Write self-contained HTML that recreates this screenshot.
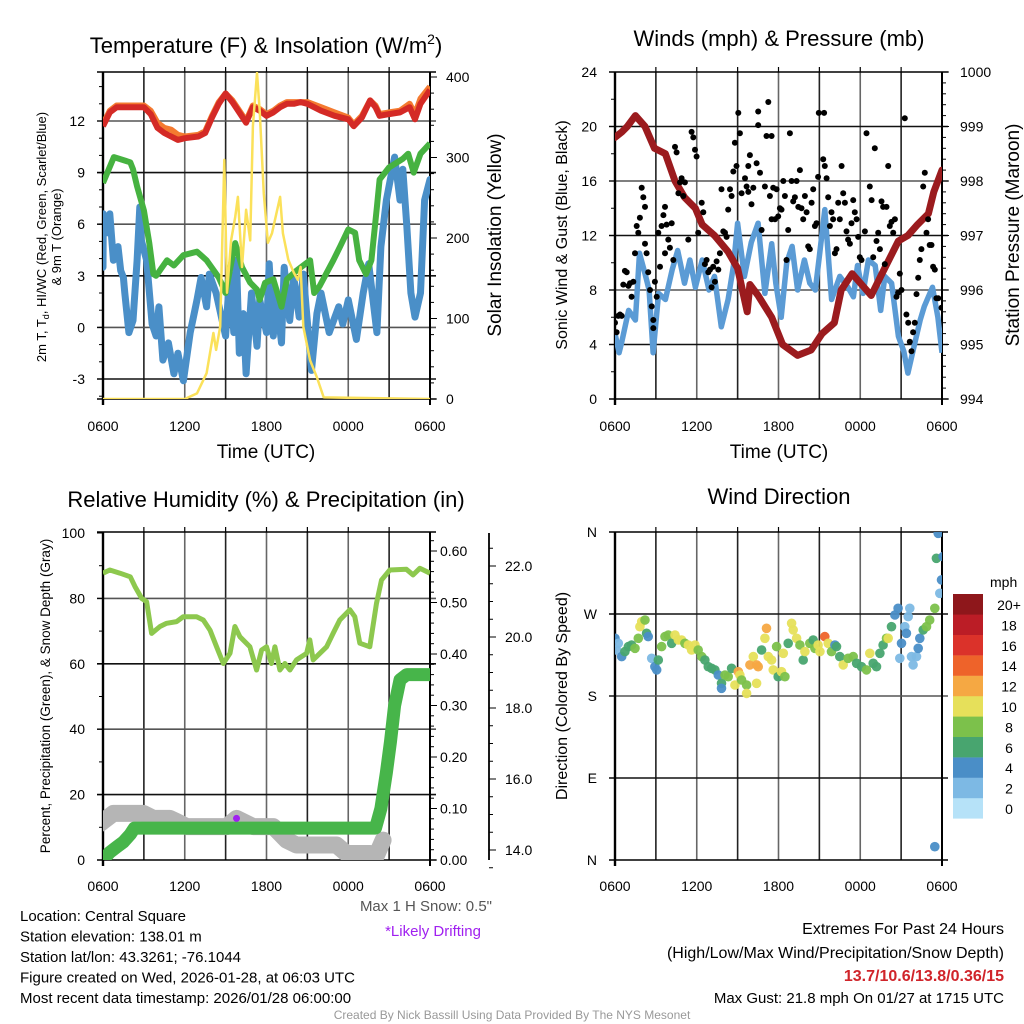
<!DOCTYPE html>
<html><head><meta charset="utf-8">
<style>
html,body{margin:0;padding:0;background:#fff;}
svg{display:block;font-family:"Liberation Sans",Arial,sans-serif;}
</style></head>
<body>
<svg id="chart" width="1024" height="1024" viewBox="0 0 1024 1024" xmlns="http://www.w3.org/2000/svg">
<defs>
<clipPath id="c1"><rect x="103" y="72" width="327" height="327"/></clipPath>
<clipPath id="c2"><rect x="615" y="72" width="327" height="327"/></clipPath>
<clipPath id="c3"><rect x="103" y="532" width="327" height="328"/></clipPath>
<clipPath id="c4"><rect x="615" y="532" width="327" height="328"/></clipPath>
</defs>
</svg>
<script>
// ---------- Panel 1 data ----------
const timeTicks = ["0600","1200","1800","0000","0600"];
const tempTicks = [-3,0,3,6,9,12];
const solarTicks = [0,100,200,300,400];
const redH = [0,0.5,1,2,3,3.5,4,4.5,5,5.5,6,7,7.5,8,8.5,9,9.5,10,10.5,11,11.5,12,12.5,13,13.5,14,14.5,15,16,17,18,18.4,19,19.6,20,20.3,21,21.8,22.5,22.9,23.3,24];
const redV = [11.7,12.5,12.8,12.8,12.8,12.4,11.6,11.3,11.1,10.9,11.0,11.1,11.3,12.2,13.0,13.6,13.1,12.5,11.9,12.8,12.6,12.3,12.5,12.8,13.0,13.0,13.1,13.0,12.6,12.3,12.1,11.7,12.2,13.2,12.8,12.3,12.4,12.5,12.8,12.1,13.0,13.8];
const orangeV = [11.8,12.6,12.9,12.9,12.9,12.6,11.9,11.6,11.5,11.2,11.1,11.2,11.4,12.3,13.1,13.6,13.2,12.6,12.0,12.9,12.7,12.4,12.6,12.9,13.1,13.1,13.1,13.1,12.8,12.5,12.2,11.8,12.3,13.2,12.9,12.4,12.5,12.6,13.0,12.4,13.3,14.0];
const greenH = [0,0.8,2,2.2,2.5,3,3.4,3.7,3.9,4.7,5.2,5.9,6.9,7.6,8.5,9,9.4,9.7,10.2,10.8,11.3,11.5,11.9,12.5,13.1,13.5,14.2,15.2,15.5,15.9,16.9,17.4,18,18.5,18.8,19.3,19.7,20.1,20.3,21,22,22.4,22.8,23.3,24];
const greenV = [8.4,9.9,9.6,9.2,8.2,6.8,4.9,3.1,3.0,3.9,3.6,4.2,4.4,3.9,2.9,2.0,3.7,4.9,3.5,2.6,2.2,1.6,2.6,2.8,1.2,2.8,3.3,3.9,2.0,2.4,3.9,4.7,5.7,5.5,3.9,3.1,3.9,7.0,8.6,9.3,9.8,10.1,9.0,10.1,10.7];
const blueH = [0,0.02,0.3,0.5,0.76,1.1,1.3,1.5,1.6,1.9,2.2,2.5,2.7,2.8,3.2,3.6,3.9,4.1,4.4,4.8,5.2,5.5,5.9,6.4,6.9,7.2,7.6,7.8,8.3,9.0,9.3,9.6,9.8,10.0,10.3,10.5,10.9,11.3,11.5,12.0,12.2,12.5,12.7,13.1,13.3,13.7,14.0,14.4,14.7,15.3,15.7,16.0,16.6,17.3,17.6,18.0,18.6,19.1,19.5,20.1,20.4,20.8,21.4,21.8,22.0,22.3,22.6,22.9,23.3,23.6,24];
const blueV = [3.5,6.6,5.5,6.6,3.9,4.7,3.3,2.9,2.0,-0.3,0.4,3.9,7.0,5.1,3.9,0.2,-0.5,1.2,-1.9,-0.9,-2.7,-1.5,-3.1,-0.3,1.6,2.9,1.2,3.1,2.0,-0.5,3.1,-0.3,3.9,-1.5,0.8,-2.7,2.0,-1.1,1.6,-0.3,3.7,-0.5,2.0,-0.9,3.5,0.4,2.9,0.6,3.1,-2.5,0.8,2.0,-0.3,1.2,0.2,1.6,-0.7,2.0,3.7,-0.3,4.7,7.4,9.9,7.4,9.2,5.9,2.0,0.6,2.0,7.4,8.6];
const solarH = [0,6.0,6.9,7.6,8.1,8.3,8.6,8.9,9.1,9.4,9.7,9.9,10.2,10.5,10.8,11.0,11.3,11.5,11.8,12.1,12.4,13.0,13.2,13.6,14.0,14.3,14.5,14.7,15.2,15.7,16.2,24];
const solarV = [0,0,7,32,82,61,90,297,132,197,226,251,164,235,197,339,405,358,255,194,206,251,206,173,157,148,164,90,48,27,2,0];

// ---------- Panel 2 data ----------
const windTicks = [0,4,8,12,16,20,24];
const presTicks = [994,995,996,997,998,999,1000];
const presH = [0,0.5,0.9,1.5,2.2,2.9,3.7,4.4,5.1,5.9,6.4,7.3,8.3,9.0,9.7,9.9,10.5,11.5,12.3,13.4,14.4,15.2,16.1,16.6,17.4,18.1,18.8,19.6,20.8,21.5,22.2,23.0,23.4,24];
const presV = [998.8,998.9,999.0,999.2,999.0,998.6,998.5,998.0,997.7,997.5,997.2,997.0,996.7,996.4,995.6,996.1,995.9,995.5,995.0,994.8,994.9,995.2,995.4,996.0,996.3,996.1,995.9,996.3,996.9,997.0,997.2,997.4,997.8,998.2];
const windH = [0,0.3,0.5,1.0,1.5,1.8,2.2,2.5,2.8,3.2,3.7,4.2,4.6,5.1,5.5,5.9,6.4,6.9,7.3,7.8,8.3,8.7,9.0,9.5,10.0,10.5,11.0,11.5,11.8,12.2,12.6,13.0,13.4,13.9,14.3,14.7,15.0,15.4,15.9,16.5,17.1,17.5,17.8,18.2,18.6,19.1,19.5,19.8,20.3,20.8,21.2,21.5,22.0,22.4,22.7,23.0,23.3,23.7,24];
const windV = [4.8,3.4,4.2,6.5,5.8,10.7,9.2,8.0,3.4,7.75,7.3,9.5,10.9,8.5,10.2,8.2,10.2,8.0,9.0,5.3,7.3,9.8,12.9,9.0,11.5,12.9,7.75,11.4,8.5,6.0,10.0,11.2,8.0,10.2,8.5,8.0,10.5,13.9,7.3,9.0,8.2,7.5,9.8,7.75,10.2,9.8,6.5,9.0,8.5,4.6,3.5,1.9,4.1,5.8,6.8,7.5,8.2,6.0,3.4];
const gustH = [0,0.12,0.24,0.37,0.49,0.61,0.73,0.86,0.98,1.1,1.22,1.34,1.47,1.59,1.71,1.83,1.96,2.08,2.2,2.2,2.32,2.44,2.57,2.69,2.81,2.81,2.93,3.06,3.18,3.3,3.42,3.55,3.67,3.67,3.79,3.91,4.03,4.16,4.28,4.4,4.52,4.65,4.77,4.89,5.01,5.13,5.38,5.62,5.75,5.87,5.99,6.11,6.36,6.48,6.6,6.72,6.85,6.97,7.09,7.21,7.33,7.46,7.58,7.7,7.82,7.95,8.07,8.19,8.31,8.44,8.56,8.68,8.8,8.92,9.05,9.17,9.29,9.54,9.66,9.78,9.78,9.9,10.02,10.15,10.39,10.51,10.51,10.64,10.76,11.0,11.12,11.25,11.37,11.49,11.49,11.61,11.74,11.86,11.98,12.1,12.22,12.35,12.47,12.59,12.71,12.84,12.96,13.08,13.2,13.33,13.45,13.57,13.69,13.81,13.94,14.06,14.18,14.3,14.43,14.55,14.67,14.79,14.91,14.96,15.28,15.35,15.4,15.53,15.65,15.77,15.89,16.01,16.14,16.26,16.38,16.5,16.63,16.75,16.87,16.99,17.11,17.24,17.36,17.48,17.6,17.73,17.85,17.97,18.09,18.34,18.46,18.7,18.83,18.95,19.07,19.19,19.32,19.44,19.56,19.68,19.8,19.93,20.05,20.17,20.29,20.42,20.54,20.66,20.78,20.9,21.03,21.27,21.39,21.52,21.64,21.76,21.88,22.0,22.13,22.25,22.37,22.49,22.62,22.74,22.86,22.98,23.1,23.23,23.35,23.47,23.59,23.72,23.96];
const gustV = [5.6,4.9,6.1,6.2,6.1,8.4,9.4,9.3,8.3,8.5,7.5,8.6,10.7,12.7,12.2,13.3,15.5,14.8,14.1,11.4,10.7,9.3,8.0,6.8,5.8,5.2,8.6,7.5,12.2,9.7,12.7,13.5,14.1,10.7,12.8,11.7,11.1,12.9,10.2,18.5,18.1,15.1,15.9,16.2,14.9,15.9,11.7,19.6,19.2,18.3,17.8,12.2,14.4,13.7,9.9,10.2,9.3,9.5,8.2,9.7,8.6,10.1,9.5,10.7,15.4,12.3,12.2,11.9,13.9,15.4,14.9,16.7,18.8,17.1,21.0,19.5,15.1,16.2,15.6,17.1,15.2,17.9,14.3,15.5,17.3,20.1,21.1,16.6,12.4,15.6,19.3,21.8,14.9,19.3,13.2,15.5,13.2,15.4,13.4,14.0,13.9,16.0,14.9,10.2,12.4,19.5,16.0,14.5,14.8,16.0,14.1,16.8,14.0,13.2,14.9,13.7,11.2,11.0,14.4,15.4,12.7,12.9,16.3,21.0,17.6,21.0,17.1,16.2,14.8,12.7,13.7,13.2,10.7,11.0,14.4,13.2,17.1,15.1,14.4,12.3,11.7,11.4,12.9,14.6,13.7,13.2,11.9,10.4,10.2,12.3,19.5,15.6,14.6,10.4,18.4,11.6,12.2,11.0,14.5,14.1,9.9,14.1,17.1,12.7,13.0,12.2,13.2,7.5,7.8,9.2,8.0,20.6,6.2,5.6,4.2,3.5,4.9,5.6,7.7,8.9,10.2,11.0,15.6,16.6,12.2,13.2,11.3,11.3,9.7,9.5,7.4,7.4,6.7];

// ---------- Panel 3 data ----------
const rhTicks = [0,20,40,60,80,100];
const precipTicks = [0.00,0.10,0.20,0.30,0.40,0.50,0.60];
const snowTicks = [14.0,16.0,18.0,20.0,22.0];
const rhH = [0,0.5,1.25,2.0,2.35,2.84,3.2,3.57,4.18,4.67,5.4,5.89,6.87,7.36,7.85,8.34,8.83,9.32,9.68,10.05,10.78,11.27,11.64,12.0,12.37,12.62,12.98,13.35,13.72,14.2,14.94,15.18,15.43,15.92,16.41,16.89,17.38,18.12,18.48,18.85,19.58,20.07,20.44,21.05,22.27,22.76,23.25,24];
const rhV = [87.7,88.7,87.7,86.6,83.6,80,79,69.3,71.4,72.4,72.9,74.4,74.4,73.4,70.3,65.2,60.1,63.2,71.4,68.3,65.2,58.1,64.2,65.2,60.1,65.2,58.1,60.1,58.1,61.2,63.2,67.3,61.2,63.2,65.2,69.3,73.4,76.5,74.4,66.3,65.2,78.5,85.6,88.7,88.9,87.2,89.2,87.7];
const precipH = [0,0.5,1.0,1.5,2.0,2.3,20.0,20.4,20.8,21.1,21.4,21.8,22.3,24];
const precipV = [0,0.015,0.025,0.035,0.05,0.062,0.062,0.10,0.17,0.23,0.30,0.35,0.36,0.36];
const snowH = [-0.2,0.76,2.96,3.69,4.91,5.4,6.14,9.07,9.8,11.03,12.5,13.47,14.2,17.14,17.87,19.58,19.95,20.56];
const snowV = [14.75,15.03,15.03,14.89,14.89,14.8,14.66,14.66,14.89,14.66,14.66,14.28,14.14,14.14,13.9,13.9,13.74,14.28];
const driftH = [9.8];
const driftV = [14.89];

// ---------- Panel 4 data ----------
const dirLabels = ["N","E","S","W","N"];
const dirTicks = [0,90,180,270,360];
const speedBins = ["0","2","4","6","8","10","12","14","16","18","20+"];
const binColors = ["#b6e2f8","#7db9e4","#4a8ec7","#48a56f","#7cc14b","#e6e05a","#f5a843","#ee632a","#db322a","#bb1d26","#8e171b"];
const dirH = [0,0.12,0.24,0.49,0.73,0.98,1.22,1.47,1.71,1.83,1.96,2.2,2.32,2.44,2.69,2.93,3.06,3.18,3.42,3.67,3.91,4.16,4.4,4.65,4.89,5.13,5.38,5.62,5.87,6.11,6.36,6.6,6.85,7.09,7.33,7.58,7.82,7.82,8.07,8.31,8.56,8.8,9.05,9.17,9.29,9.66,9.66,9.9,10.15,10.39,10.51,10.39,10.76,11.0,11.12,11.25,11.49,11.61,11.86,11.98,12.22,12.35,12.47,12.71,12.96,13.08,13.33,13.57,13.81,13.94,14.3,14.55,14.67,14.91,15.04,15.4,15.65,15.89,16.14,16.26,16.5,16.75,17.11,17.48,17.73,18.09,18.46,18.7,18.95,19.19,19.44,19.68,19.93,20.05,20.29,20.54,20.78,20.9,21.03,21.27,21.39,21.52,21.64,21.88,21.76,22.13,22.25,22.37,22.62,22.86,23.1,23.47,23.59,23.72,23.84,23.96,24.08,23.47];
const dirV = [243.3,230.5,237.8,223.2,228.7,234.2,236.0,232.3,243.3,256.1,261.6,263.4,248.8,245.2,221.4,212.2,208.6,219.5,234.2,245.2,247.0,237.8,247.0,241.5,241.5,237.8,236.0,230.5,236.0,230.5,223.2,219.5,212.2,210.4,208.6,203.1,193.9,188.4,203.1,201.2,210.4,192.1,206.7,203.1,197.6,192.1,182.9,214.1,223.2,214.1,212.2,193.9,230.5,243.3,254.3,223.2,219.5,208.6,234.2,201.2,206.7,226.9,201.2,237.8,259.8,252.5,243.3,236.0,219.5,228.7,237.8,241.5,232.3,236.0,228.7,245.2,237.8,228.7,236.0,234.2,223.2,214.1,221.4,223.2,215.9,212.2,208.6,226.9,215.9,212.2,226.9,236.0,243.3,243.3,256.1,268.9,276.3,221.4,237.8,256.1,248.8,267.1,276.3,214.1,223.2,223.2,232.3,243.3,252.5,256.1,263.4,276.3,331.1,358.6,292.7,307.4,333.0,14.6];
const dirSpd = [5,3,3,5,7,7,7,9,9,11,11,9,7,5,3,5,5,7,9,9,9,7,11,11,11,9,11,11,11,9,9,7,7,7,7,5,7,5,9,9,7,11,13,11,9,9,11,13,11,13,13,11,7,11,13,11,11,11,9,7,11,11,9,7,11,11,11,9,7,11,9,7,9,11,11,15,11,9,5,7,7,11,9,9,7,7,9,11,7,7,7,7,9,11,7,5,5,3,5,3,5,3,3,3,3,3,5,5,7,9,9,9,7,5,3,5,5,5,5];

// ---------- helpers ----------
const NS = "http://www.w3.org/2000/svg";
const svg = document.getElementById("chart");
function el(tag, attrs, parent, text) {
  const e = document.createElementNS(NS, tag);
  for (const k in attrs) e.setAttribute(k, attrs[k]);
  if (text !== undefined) e.textContent = text;
  (parent || svg).appendChild(e);
  return e;
}
function group(name, clip) {
  const g = el("g", clip ? {"clip-path": "url(#" + clip + ")"} : {});
  
  
  return g;
}
function pathFrom(xs, ys, fx, fy) {
  return xs.map((h, i) => (i ? "L" : "M") + fx(h).toFixed(1) + "," + fy(ys[i]).toFixed(1)).join("");
}
function txt(g, x, y, s, size, anchor, extra) {
  const a = {x: x, y: y, "font-size": size, "text-anchor": anchor || "middle", fill: "#000"};
  if (extra) for (const k in extra) a[k] = extra[k];
  return el("text", a, g, s);
}

function frame(name, x0, y0, w, h, xs, hGridYs, labelDy) {
  const g = group(name + "-frame");
  for (let i = 1; i < 8; i++) {
    const x = xs(i * 3);
    el("line", {x1: x, y1: y0, x2: x, y2: y0 + h, stroke: i % 2 ? "#222" : "#666", "stroke-width": 1.6}, g);
    el("line", {x1: x, y1: y0 - 5, x2: x, y2: y0, stroke: "#000", "stroke-width": 1.2}, g);
  }
  hGridYs.forEach((y, i) => el("line", {x1: x0 - 6, y1: y, x2: x0 + w + 6, y2: y, stroke: i % 2 ? "#555" : "#111", "stroke-width": 1.6}, g));
  el("line", {x1: x0 - 6, y1: y0, x2: x0 + w + 6, y2: y0, stroke: "#000", "stroke-width": 1.6}, g);
  el("line", {x1: x0 - 6, y1: y0 + h, x2: x0 + w + 6, y2: y0 + h, stroke: "#000", "stroke-width": 1.6}, g);
  el("line", {x1: x0, y1: y0, x2: x0, y2: y0 + h + 6, stroke: "#000", "stroke-width": 2.4}, g);
  el("line", {x1: x0 + w, y1: y0, x2: x0 + w, y2: y0 + h + 6, stroke: "#000", "stroke-width": 2}, g);
  const lg = group(name + "-x-tick-labels");
  timeTicks.forEach((t, i) => txt(lg, xs(i * 6), y0 + h + labelDy, t, 14));
  return g;
}

// ---------- Panel 1 ----------
const x1 = h => 103 + h * 13.625;
const yT = v => 121 + (12 - v) * 17.2;
const yS = w => 399 - w * 0.805;
frame("temp-panel", 103, 72, 327, 327, x1, tempTicks.map(yT).filter(y => y > 73 && y < 398), 32);
{
  const g = group("temp-axes");
  tempTicks.forEach(v => { txt(g, 85, yT(v) + 5, String(v), 14, "end"); el("line", {x1: 97, y1: yT(v), x2: 103, y2: yT(v), stroke: "#000"}, g); });
  for (let v = -4; v <= 14; v++) el("line", {x1: 99, y1: yT(v), x2: 103, y2: yT(v), stroke: "#000"}, g);
  solarTicks.forEach(w => { txt(g, 446, yS(w) + 5, String(w), 14, "start"); el("line", {x1: 430, y1: yS(w), x2: 437, y2: yS(w), stroke: "#000"}, g); });
  for (let w = 20; w <= 400; w += 20) el("line", {x1: 430, y1: yS(w), x2: 434, y2: yS(w), stroke: "#000"}, g);
  const t = txt(g, 266, 53, "", 22); t.innerHTML = 'Temperature (F) &amp; Insolation (W/m<tspan dy="-9" font-size="14">2</tspan><tspan dy="9">)</tspan>';
  
  
  const xt = txt(g, 266, 458, "Time (UTC)", 19);
  
  
  const yt = el("text", {transform: "translate(46,237) rotate(-90)", "font-size": 13, "text-anchor": "middle"}, g);
  yt.innerHTML = '<tspan x="0" dy="0">2m T, T<tspan font-size="9" dy="3">d</tspan><tspan dy="-3">, HI/WC (Red, Green, Scarlet/Blue)</tspan></tspan><tspan x="0" dy="15">&amp; 9m T (Orange)</tspan>';
  
  
  const rt = txt(g, 0, 0, "Solar Insolation (Yellow)", 19, "middle", {transform: "translate(501,235) rotate(-90)"});
  
  
}
{
  const g = group("temp-series", "c1");
  const s1 = el("path", {d: pathFrom(blueH, blueV, x1, yT), fill: "none", stroke: "#4a8fc8", "stroke-width": 7, "stroke-linejoin": "round", "stroke-linecap": "round"}, g);
  
  
  const s2 = el("path", {d: pathFrom(greenH, greenV, x1, yT), fill: "none", stroke: "#46b240", "stroke-width": 6, "stroke-linejoin": "round"}, g);
  
  
  const s3 = el("path", {d: pathFrom(redH, orangeV, x1, yT), fill: "none", stroke: "#f47a30", "stroke-width": 6, "stroke-linejoin": "round"}, g);
  
  
  const s4 = el("path", {d: pathFrom(redH, redV, x1, yT), fill: "none", stroke: "#d42a26", "stroke-width": 6, "stroke-linejoin": "round"}, g);
  
  
  const s5 = el("path", {d: pathFrom(solarH, solarV, x1, yS), fill: "none", stroke: "#fbe15a", "stroke-width": 2.5, "stroke-linejoin": "round"}, g);
  
  
}

// ---------- Panel 2 ----------
const x2 = h => 615 + h * 13.625;
const yW = m => 399 - m * 13.625;
const yP = p => 399 - (p - 994) * 54.5;
frame("wind-panel", 615, 72, 327, 327, x2, windTicks.map(yW).filter(y => y > 73 && y < 398), 32);
{
  const g = group("wind-axes");
  windTicks.forEach(v => { txt(g, 597, yW(v) + 5, String(v), 14, "end"); el("line", {x1: 609, y1: yW(v), x2: 615, y2: yW(v), stroke: "#000"}, g); });
  for (let v = 2; v < 24; v += 4) el("line", {x1: 611, y1: yW(v), x2: 615, y2: yW(v), stroke: "#000"}, g);
  presTicks.forEach(p => { txt(g, 960, yP(p) + 5, String(p), 14, "start"); el("line", {x1: 942, y1: yP(p), x2: 949, y2: yP(p), stroke: "#000"}, g); });
  for (let p = 994; p < 1000; p += 0.2) el("line", {x1: 942, y1: yP(p), x2: 946, y2: yP(p), stroke: "#000"}, g);
  const t = txt(g, 779, 46, "Winds (mph) & Pressure (mb)", 22);
  
  
  const xt = txt(g, 779, 458, "Time (UTC)", 19);
  
  
  const yt = txt(g, 0, 0, "Sonic Wind & Gust (Blue, Black)", 16, "middle", {transform: "translate(567,235) rotate(-90)"});
  
  
  const rt = txt(g, 0, 0, "Station Pressure (Maroon)", 19, "middle", {transform: "translate(1019,235) rotate(-90)"});
  
  
}
{
  const g = group("wind-series", "c2");
  const w = el("path", {d: pathFrom(windH, windV, x2, yW), fill: "none", stroke: "#5b9bd5", "stroke-width": 5.5, "stroke-linejoin": "round"}, g);
  
  
  const p = el("path", {d: pathFrom(presH, presV, x2, yP), fill: "none", stroke: "#9b1b1e", "stroke-width": 7, "stroke-linejoin": "round", "stroke-linecap": "round"}, g);
  
  
  gustH.forEach((h, i) => {
    const c = el("circle", {cx: x2(h).toFixed(1), cy: yW(gustV[i]).toFixed(1), r: 3, fill: "#000"}, g);
    
    
  });
}

// ---------- Panel 3 ----------
const x3 = h => 103 + h * 13.625;
const yRH = v => 860 - v * 3.27;
const yPr = p => 860 - p * 515;
const ySn = s => 850 - (s - 14) * 35.5;
frame("rh-panel", 103, 532, 327, 328, x3, rhTicks.map(yRH).filter(y => y > 533 && y < 859), 31);
{
  const g = group("rh-axes");
  rhTicks.forEach(v => { txt(g, 85, yRH(v) + 5, String(v), 14, "end"); el("line", {x1: 97, y1: yRH(v), x2: 103, y2: yRH(v), stroke: "#000"}, g); });
  for (let v = 10; v < 100; v += 20) el("line", {x1: 99, y1: yRH(v), x2: 103, y2: yRH(v), stroke: "#000"}, g);
  precipTicks.forEach(p => { txt(g, 440, yPr(p) + 5, p.toFixed(2), 14, "start"); el("line", {x1: 430, y1: yPr(p), x2: 437, y2: yPr(p), stroke: "#000"}, g); });
  for (let p = 0.02; p < 0.63; p += 0.02) el("line", {x1: 430, y1: yPr(p), x2: 434, y2: yPr(p), stroke: "#000"}, g);
  el("line", {x1: 489, y1: 533, x2: 489, y2: 860, stroke: "#000", "stroke-width": 1.8}, g);
  snowTicks.forEach(s => { txt(g, 505, ySn(s) + 5, s.toFixed(1), 14, "start"); el("line", {x1: 489, y1: ySn(s), x2: 496, y2: ySn(s), stroke: "#000"}, g); });
  for (let s = 13.5; s < 23; s += 0.5) el("line", {x1: 489, y1: ySn(s), x2: 493, y2: ySn(s), stroke: "#000"}, g);
  const t = txt(g, 266, 507, "Relative Humidity (%) & Precipitation (in)", 22);
  
  
  const yt = txt(g, 0, 0, "Percent, Precipitation (Green), & Snow Depth (Gray)", 13.5, "middle", {transform: "translate(50,696) rotate(-90)"});
  
  
}
{
  const g = group("rh-series", "c3");
  const sn = el("path", {d: pathFrom(snowH, snowV, x3, ySn), fill: "none", stroke: "#b5b5b5", "stroke-width": 17, "stroke-linejoin": "round", "stroke-linecap": "round"}, g);
  
  
  const pr = el("path", {d: pathFrom(precipH, precipV, x3, yPr), fill: "none", stroke: "#47b54a", "stroke-width": 13, "stroke-linejoin": "round", "stroke-linecap": "round"}, g);
  
  
  const rh = el("path", {d: pathFrom(rhH, rhV, x3, yRH), fill: "none", stroke: "#8dc84e", "stroke-width": 5, "stroke-linejoin": "round"}, g);
  
  
  driftH.forEach((h, i) => {
    const c = el("circle", {cx: x3(h), cy: ySn(driftV[i]), r: 3.5, fill: "#a020f0"}, g);
    
    
  });
}

// ---------- Panel 4 ----------
const x4 = h => 615 + h * 13.625;
const yD = d => 860 - d * 328 / 360;
frame("dir-panel", 615, 532, 327, 328, x4, dirTicks.map(yD).filter(y => y > 533 && y < 859), 31);
{
  const g = group("dir-axes");
  dirTicks.forEach((d, i) => { txt(g, 597, yD(d) + 5, dirLabels[i], 14, "end"); el("line", {x1: 609, y1: yD(d), x2: 615, y2: yD(d), stroke: "#000"}, g); });
  const t = txt(g, 779, 504, "Wind Direction", 22);
  
  
  const yt = txt(g, 0, 0, "Direction (Colored By Speed)", 16, "middle", {transform: "translate(567,696) rotate(-90)"});
  
  
}
{
  const g = group("dir-series", "c4");
  dirH.forEach((h, i) => {
    const bin = Math.min(10, Math.floor(dirSpd[i] / 2));
    const c = el("circle", {cx: x4(h).toFixed(1), cy: yD(dirV[i]).toFixed(1), r: 4.8, fill: binColors[bin], "fill-opacity": 0.95}, g);
    
    
  });
}
{
  const g = group("speed-colorbar");
  const t = txt(g, 990, 587, "mph", 14, "start");
  
  
  for (let i = 0; i < 11; i++) {
    const y = 594 + (10 - i) * 20.4;
    const r = el("rect", {x: 953, y: y, width: 30, height: 20.6, fill: binColors[i]}, g);
    
    
    txt(g, 1009, y + 16, speedBins[i], 14);
  }
}

// ---------- footer text ----------
{
  const g = group("station-info");
  ["Location: Central Square","Station elevation: 138.01 m","Station lat/lon: 43.3261; -76.1044","Figure created on Wed, 2026-01-28, at 06:03 UTC","Most recent data timestamp: 2026/01/28 06:00:00"].forEach((s, i) => txt(g, 20, 921 + i * 20.5, s, 15, "start"));
  txt(g, 492, 911, 'Max 1 H Snow: 0.5"', 15, "end", {fill: "#555"});
  txt(g, 433, 936, "*Likely Drifting", 15, "middle", {fill: "#a020f0"});
  txt(g, 1004, 934, "Extremes For Past 24 Hours", 16, "end");
  txt(g, 1004, 958, "(High/Low/Max Wind/Precipitation/Snow Depth)", 16, "end");
  txt(g, 1004, 981, "13.7/10.6/13.8/0.36/15", 16, "end", {fill: "#d0242a", "font-weight": "bold"});
  txt(g, 1004, 1003, "Max Gust: 21.8 mph On 01/27 at 1715 UTC", 15, "end");
  txt(g, 512, 1019, "Created By Nick Bassill Using Data Provided By The NYS Mesonet", 12, "middle", {fill: "#999"});
}
</script>
</body></html>
